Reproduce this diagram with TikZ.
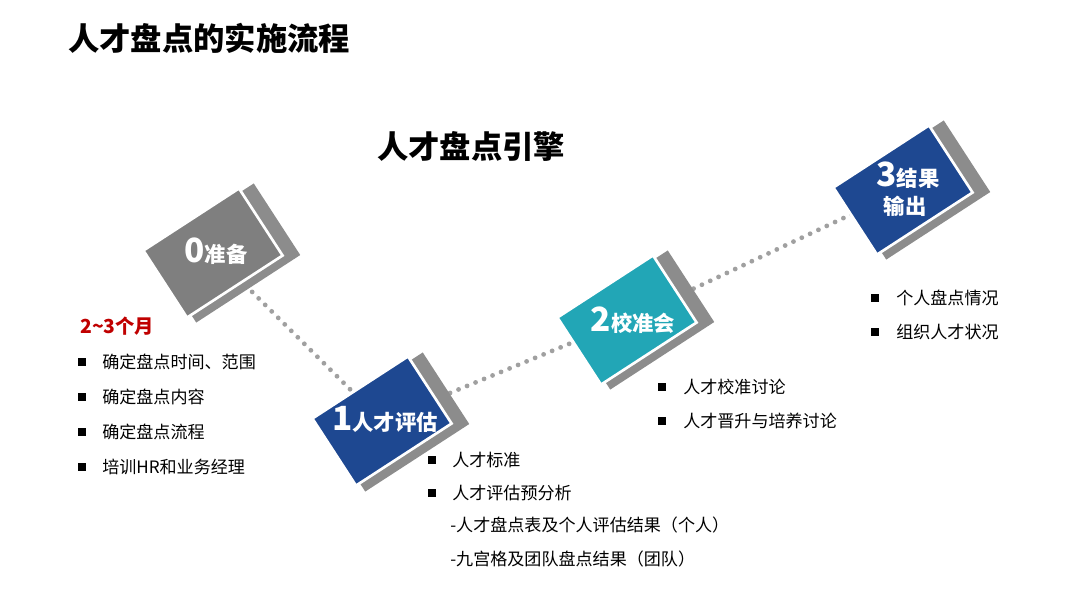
\documentclass[tikz,border=0pt]{standalone}
\usepackage{fontspec}
\usetikzlibrary{calc}
\setmainfont{Noto Sans CJK SC}
\definecolor{pgray}{RGB}{127,127,127}
\definecolor{sgray}{RGB}{140,140,140}
\definecolor{pblue}{RGB}{30,72,145}
\definecolor{pteal}{RGB}{34,166,182}
\definecolor{pred}{RGB}{192,0,0}
\definecolor{dotgray}{RGB}{160,160,160}
\begin{document}
\begin{tikzpicture}[x=0.75pt,y=-0.75pt,
  mainbox/.style={draw=white,line width=2pt,rotate=33,minimum width=85.5pt,minimum height=60pt,inner sep=0pt},
  shadowbox/.style={fill=sgray,rotate=33,minimum width=93pt,minimum height=64pt,inner sep=0pt},
  dotline/.style={dotgray,line width=3.6pt,line cap=round,dash pattern=on 0pt off 6.9pt},
  boxtext/.style={text=white,inner sep=0pt,align=center,font=\fontsize{16}{16}\selectfont\bfseries},
  bul/.style={fill=black,minimum size=6.3pt,inner sep=0pt},
  item/.style={anchor=west,inner sep=0pt,font=\fontsize{12.8}{16}\selectfont},
  heading/.style={anchor=west,inner sep=0pt,font=\fontsize{23.5}{26}\selectfont\bfseries}]
\useasboundingbox (0,0) rectangle (1080,608);
\fill[white] (0,0) rectangle (1080,608);
% titles
\node[heading] (title) at (68,38) {人才盘点的实施流程};
\node[heading] (engine) at (377,146) {人才盘点引擎};
% centres
\coordinate (c0) at (213,253);
\coordinate (c1) at (382,421);
\coordinate (c2) at (627,320);
\coordinate (c3) at (903,190);
% dotted connectors
\draw[dotline] (c0) -- (c1);
\draw[dotline] (c1) -- (c2);
\draw[dotline] (c2) -- (c3);
% shadows
\node[shadowbox] (s0) at ($(c0)+(12,0)$) {};
\node[shadowbox] (s1) at ($(c1)+(12,1)$) {};
\node[shadowbox] (s2) at ($(c2)+(12,0)$) {};
\node[shadowbox] (s3) at ($(c3)+(12,0)$) {};
% main boxes
\node[mainbox,fill=pgray] (b0) at (c0) {};
\node[mainbox,fill=pblue] (b1) at (c1) {};
\node[mainbox,fill=pteal] (b2) at (c2) {};
\node[mainbox,fill=pblue] (b3) at (c3) {};
% box texts
\node[boxtext] (t0) at (216,251) {{\fontsize{25}{25}\selectfont 0}准备};
\node[boxtext] (t1) at (385,419) {{\fontsize{25}{25}\selectfont 1}人才评估};
\node[boxtext] (t2) at (633,320) {{\fontsize{25}{25}\selectfont 2}校准会};
\node[boxtext] (t3a) at (908,175) {{\fontsize{25}{25}\selectfont 3}结果};
\node[boxtext] (t3b) at (905,206) {输出};
% list 0
\node[item,text=pred,font=\fontsize{14.5}{16}\selectfont\bfseries] (l0h) at (80,326) {2\textasciitilde3个月};
\node[bul] (l0b1) at (82,362) {};
\node[item] (l0t1) at (102,362) {确定盘点时间、范围};
\node[bul] (l0b2) at (82,397) {};
\node[item] (l0t2) at (102,397) {确定盘点内容};
\node[bul] (l0b3) at (82,432) {};
\node[item] (l0t3) at (102,432) {确定盘点流程};
\node[bul] (l0b4) at (82,467) {};
\node[item] (l0t4) at (102,467) {培训HR和业务经理};
% list 1
\node[bul] (l1b1) at (432,460) {};
\node[item] (l1t1) at (452,460) {人才标准};
\node[bul] (l1b2) at (432,493) {};
\node[item] (l1t2) at (452,493) {人才评估预分析};
\node[item] (l1t3) at (450,525) {-人才盘点表及个人评估结果（个人）};
\node[item] (l1t4) at (450,559) {-九宫格及团队盘点结果（团队）};
% list 2
\node[bul] (l2b1) at (662,387) {};
\node[item] (l2t1) at (683,387) {人才校准讨论};
\node[bul] (l2b2) at (662,421) {};
\node[item] (l2t2) at (683,421) {人才晋升与培养讨论};
% list 3
\node[bul] (l3b1) at (875,298) {};
\node[item] (l3t1) at (896,298) {个人盘点情况};
\node[bul] (l3b2) at (875,332) {};
\node[item] (l3t2) at (896,332) {组织人才状况};
\end{tikzpicture}
\end{document}
